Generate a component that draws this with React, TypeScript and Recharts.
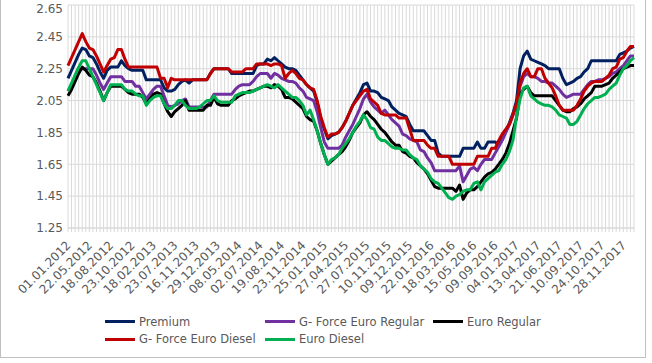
import React from 'react';
import { LineChart, Line, XAxis, YAxis, CartesianGrid, Legend } from 'recharts';

// tick labels shown on the x axis (every 6th price-change date)
const tickLabels = [
  '01.01.2012', '22.05.2012', '18.08.2012', '23.10.2012', '18.02.2013', '23.07.2013', '16.11.2013',
  '29.12.2013', '08.05.2014', '02.07.2014', '19.08.2014', '23.11.2014', '25.01.2015', '27.04.2015',
  '27.07.2015', '10.11.2015', '09.12.2015', '22.01.2016', '18.03.2016', '15.05.2016', '09.09.2016',
  '04.01.2017', '13.04.2017', '21.06.2017', '10.09.2017', '24.10.2017', '28.11.2017',
];
const LABEL_STEP = 6;

const yTicks = [1.25, 1.35, 1.45, 1.55, 1.65, 1.75, 1.85, 1.95, 2.05, 2.15, 2.25, 2.35, 2.45, 2.55, 2.65];
const yLabelled = [1.25, 1.45, 1.65, 1.85, 2.05, 2.25, 2.45, 2.65];

const premium = [
  2.19, 2.24, 2.29, 2.34, 2.38, 2.37, 2.33, 2.32, 2.28, 2.23,
  2.19, 2.24, 2.26, 2.26, 2.26, 2.30, 2.27, 2.25, 2.24, 2.24,
  2.24, 2.24, 2.18, 2.18, 2.18, 2.18, 2.18, 2.13, 2.11, 2.11,
  2.12, 2.15, 2.17, 2.18, 2.16, 2.18, 2.18, 2.18, 2.18, 2.18,
  2.22, 2.25, 2.25, 2.25, 2.25, 2.25, 2.22, 2.22, 2.22, 2.22,
  2.22, 2.22, 2.22, 2.27, 2.28, 2.28, 2.31, 2.30, 2.32, 2.30,
  2.28, 2.26, 2.25, 2.25, 2.24, 2.21, 2.18, 2.15, 2.13, 2.11,
  2.04, 1.94, 1.87, 1.81, 1.83, 1.84, 1.85, 1.88, 1.92, 1.97,
  2.02, 2.06, 2.10, 2.15, 2.16, 2.11, 2.11, 2.10, 2.07, 2.06,
  2.05, 2.01, 1.99, 1.97, 1.96, 1.95, 1.90, 1.86, 1.86, 1.86,
  1.86, 1.83, 1.80, 1.80, 1.72, 1.70, 1.70, 1.70, 1.70, 1.70,
  1.70, 1.75, 1.75, 1.75, 1.75, 1.79, 1.75, 1.75, 1.79, 1.79,
  1.79, 1.77, 1.82, 1.86, 1.91, 1.97, 2.05, 2.25, 2.33, 2.36,
  2.31, 2.30, 2.29, 2.28, 2.27, 2.25, 2.25, 2.25, 2.25, 2.19,
  2.15, 2.16, 2.17, 2.19, 2.20, 2.23, 2.25, 2.30, 2.30, 2.30,
  2.30, 2.30, 2.30, 2.30, 2.30, 2.34, 2.35, 2.36, 2.38, 2.39,
];

const gForceRegular = [
  2.11, 2.15, 2.20, 2.24, 2.25, 2.25, 2.25, 2.25, 2.21, 2.16,
  2.12, 2.16, 2.20, 2.20, 2.20, 2.20, 2.17, 2.17, 2.17, 2.14,
  2.14, 2.10, 2.06, 2.09, 2.12, 2.14, 2.14, 2.08, 2.02, 2.01,
  2.02, 2.03, 2.05, 2.06, 2.01, 2.01, 2.01, 2.01, 2.01, 2.01,
  2.05, 2.09, 2.09, 2.09, 2.09, 2.09, 2.09, 2.12, 2.14, 2.15,
  2.15, 2.15, 2.17, 2.20, 2.22, 2.22, 2.22, 2.19, 2.22, 2.21,
  2.19, 2.18, 2.17, 2.17, 2.16, 2.13, 2.11, 2.07, 2.06, 2.05,
  1.98, 1.88, 1.79, 1.75, 1.75, 1.75, 1.75, 1.77, 1.82, 1.86,
  1.90, 1.95, 2.00, 2.06, 2.09, 2.04, 2.01, 1.99, 1.97, 1.99,
  1.96, 1.93, 1.91, 1.89, 1.84, 1.83, 1.81, 1.80, 1.79, 1.74,
  1.73, 1.69, 1.66, 1.61, 1.61, 1.61, 1.61, 1.61, 1.61, 1.61,
  1.64, 1.54, 1.58, 1.62, 1.63, 1.61, 1.65, 1.68, 1.68, 1.68,
  1.72, 1.76, 1.80, 1.85, 1.90, 1.96, 2.02, 2.14, 2.20, 2.22,
  2.20, 2.20, 2.19, 2.17, 2.17, 2.16, 2.16, 2.14, 2.12, 2.09,
  2.07, 2.08, 2.09, 2.09, 2.09, 2.12, 2.15, 2.17, 2.17, 2.18,
  2.18, 2.19, 2.20, 2.22, 2.23, 2.25, 2.27, 2.30, 2.33, 2.33,
];

const euroRegular = [
  2.08, 2.12, 2.17, 2.22, 2.26, 2.24, 2.21, 2.20, 2.16, 2.11,
  2.05, 2.10, 2.14, 2.14, 2.14, 2.14, 2.12, 2.10, 2.09, 2.09,
  2.09, 2.07, 2.03, 2.06, 2.09, 2.10, 2.09, 2.03, 1.98, 1.95,
  1.98, 2.00, 2.02, 2.05, 1.99, 1.99, 1.99, 1.99, 1.99, 2.02,
  2.02, 2.07, 2.03, 2.02, 2.02, 2.02, 2.05, 2.06, 2.08, 2.09,
  2.10, 2.11, 2.11, 2.12, 2.13, 2.14, 2.14, 2.13, 2.15, 2.14,
  2.12, 2.07, 2.07, 2.06, 2.04, 2.02, 2.00, 1.95, 1.93, 1.92,
  1.86, 1.78, 1.71, 1.65, 1.67, 1.69, 1.71, 1.73, 1.76, 1.80,
  1.85, 1.88, 1.91, 1.96, 1.98, 1.95, 1.93, 1.90, 1.87, 1.85,
  1.82, 1.79, 1.77, 1.77, 1.73, 1.72, 1.70, 1.69, 1.66, 1.64,
  1.62, 1.59, 1.55, 1.51, 1.50, 1.50, 1.50, 1.50, 1.50, 1.48,
  1.52, 1.43, 1.47, 1.49, 1.49, 1.51, 1.54, 1.57, 1.59, 1.60,
  1.62, 1.65, 1.68, 1.72, 1.78, 1.86, 1.94, 2.09, 2.12, 2.14,
  2.10, 2.08, 2.08, 2.08, 2.08, 2.08, 2.08, 2.05, 2.02, 1.99,
  1.98, 1.98, 2.00, 2.01, 2.03, 2.06, 2.08, 2.10, 2.14, 2.14,
  2.14, 2.15, 2.16, 2.19, 2.21, 2.23, 2.25, 2.26, 2.27, 2.27,
];

const gForceDiesel = [
  2.27, 2.32, 2.37, 2.42, 2.47, 2.42, 2.38, 2.37, 2.33, 2.28,
  2.23, 2.27, 2.31, 2.32, 2.37, 2.37, 2.31, 2.26, 2.26, 2.26,
  2.26, 2.26, 2.26, 2.26, 2.26, 2.26, 2.19, 2.19, 2.13, 2.19,
  2.18, 2.18, 2.18, 2.18, 2.18, 2.18, 2.18, 2.18, 2.18, 2.18,
  2.22, 2.25, 2.25, 2.25, 2.25, 2.25, 2.23, 2.23, 2.23, 2.23,
  2.25, 2.25, 2.25, 2.28, 2.28, 2.28, 2.28, 2.27, 2.28, 2.28,
  2.27, 2.19, 2.22, 2.24, 2.22, 2.19, 2.18, 2.15, 2.13, 2.12,
  2.05, 1.95, 1.88, 1.82, 1.84, 1.84, 1.85, 1.88, 1.92, 1.97,
  2.02, 2.05, 2.08, 2.11, 2.12, 2.06, 2.04, 2.02, 1.97, 1.96,
  1.96, 1.96, 1.96, 1.94, 1.94, 1.94, 1.87, 1.80, 1.80, 1.80,
  1.80, 1.77, 1.75, 1.75, 1.70, 1.70, 1.70, 1.70, 1.65, 1.65,
  1.65, 1.65, 1.65, 1.65, 1.65, 1.70, 1.70, 1.70, 1.70, 1.75,
  1.75, 1.80, 1.84, 1.87, 1.90, 1.96, 2.03, 2.16, 2.22, 2.25,
  2.20, 2.20, 2.25, 2.25, 2.19, 2.16, 2.13, 2.08, 2.02, 1.99,
  1.99, 1.99, 1.99, 2.02, 2.06, 2.11, 2.14, 2.16, 2.17, 2.17,
  2.17, 2.19, 2.21, 2.25, 2.26, 2.31, 2.32, 2.36, 2.39, 2.39,
];

const euroDiesel = [
  2.11, 2.16, 2.21, 2.26, 2.30, 2.30, 2.25, 2.20, 2.15, 2.10,
  2.05, 2.10, 2.15, 2.15, 2.15, 2.15, 2.12, 2.11, 2.11, 2.09,
  2.08, 2.08, 2.02, 2.05, 2.07, 2.08, 2.08, 2.03, 2.00, 2.00,
  2.02, 2.05, 2.05, 2.02, 2.00, 2.00, 2.00, 2.01, 2.03, 2.05,
  2.05, 2.08, 2.05, 2.04, 2.04, 2.04, 2.04, 2.08, 2.09, 2.10,
  2.10, 2.10, 2.11, 2.12, 2.13, 2.14, 2.15, 2.14, 2.13, 2.15,
  2.13, 2.11, 2.09, 2.07, 2.07, 2.05, 2.02, 1.96, 1.99, 1.93,
  1.86, 1.78, 1.71, 1.65, 1.68, 1.69, 1.71, 1.75, 1.78, 1.81,
  1.85, 1.89, 1.92, 1.96, 1.93, 1.88, 1.87, 1.82, 1.80, 1.80,
  1.78, 1.76, 1.75, 1.75, 1.74, 1.74, 1.71, 1.69, 1.68, 1.64,
  1.62, 1.60, 1.56, 1.54, 1.53, 1.50, 1.47, 1.44, 1.43, 1.45,
  1.46, 1.48, 1.49, 1.49, 1.53, 1.54, 1.49, 1.54, 1.56, 1.58,
  1.60, 1.61, 1.65, 1.68, 1.73, 1.80, 1.95, 2.06, 2.13, 2.14,
  2.08, 2.06, 2.04, 2.03, 2.02, 2.02, 2.01, 1.99, 1.96, 1.95,
  1.94, 1.90, 1.90, 1.92, 1.96, 2.00, 2.03, 2.05, 2.07, 2.07,
  2.08, 2.09, 2.12, 2.14, 2.16, 2.21, 2.25, 2.27, 2.30, 2.32,
];

const series = [
  { key: 'premium', name: 'Premium', color: '#002060', values: premium },
  { key: 'gForceRegular', name: 'G- Force Euro Regular', color: '#7030A0', values: gForceRegular },
  { key: 'euroRegular', name: 'Euro Regular', color: '#000000', values: euroRegular },
  { key: 'gForceDiesel', name: 'G- Force Euro Diesel', color: '#C00000', values: gForceDiesel },
  { key: 'euroDiesel', name: 'Euro Diesel', color: '#00B050', values: euroDiesel },
];

const data = premium.map((_, i) => {
  const row: Record<string, number> = { idx: i };
  series.forEach(s => { row[s.key] = s.values[i]; });
  return row;
});

const FONT = '"DejaVu Sans", Verdana, sans-serif';
const TEXT = '#595959';
const GRID = '#d9d9d9';

const DateTick = (props: any) => {
  const { x, y, payload } = props;
  const i = Number(payload.value);
  if (i % LABEL_STEP !== 0) return null;
  return (
    <g transform={`translate(${x + 3.5},${y + 12}) rotate(-45)`}>
      <text x={0} y={0} textAnchor="end" fill={TEXT} fontSize={12} fontFamily={FONT}>
        {tickLabels[i / LABEL_STEP]}
      </text>
    </g>
  );
};

const PriceTick = (props: any) => {
  const { x, y, payload } = props;
  if (!yLabelled.some(v => Math.abs(v - payload.value) < 1e-6)) return null;
  return (
    <text x={x} y={y} dy="0.36em" textAnchor="end" fill={TEXT} fontSize={12} fontFamily={FONT}>
      {payload.value.toFixed(2)}
    </text>
  );
};

const renderLegend = () => (
  <div
    style={{
      display: 'grid',
      gridTemplateColumns: '160px 168px 140px',
      paddingLeft: 104,
      fontFamily: FONT,
      fontSize: 11.5,
      color: TEXT,
    }}
  >
    {series.map(s => (
      <div key={s.key} style={{ display: 'flex', alignItems: 'center', height: 17.5 }}>
        <span style={{ display: 'inline-block', width: 30, height: 3, background: s.color, marginRight: 4 }} />
        <span>{s.name}</span>
      </div>
    ))}
  </div>
);

export default function App() {
  return (
    <div
      style={{
        position: 'absolute',
        left: 0,
        top: -1,
        width: 646,
        height: 359,
        border: '1px solid #bfbfbf',
        boxSizing: 'border-box',
        background: '#fff',
      }}
    >
      <LineChart width={644} height={357} data={data} margin={{ top: 5, right: 11, left: 0, bottom: 0 }}>
        <CartesianGrid stroke={GRID} strokeWidth={1} />
        <XAxis
          dataKey="idx"
          interval={0}
          tick={<DateTick />}
          tickSize={4}
          tickMargin={2}
          tickLine={{ stroke: GRID }}
          axisLine={{ stroke: GRID }}
          height={89}
        />
        <YAxis
          domain={[1.25, 2.65]}
          ticks={yTicks}
          tick={<PriceTick />}
          tickLine={false}
          axisLine={false}
          tickSize={0}
          tickMargin={5}
          width={67}
        />
        <Legend
          content={renderLegend}
          wrapperStyle={{ top: 313, left: 0, width: 644, height: 40 }}
        />
        {series.map(s => (
          <Line
            key={s.key}
            type="linear"
            dataKey={s.key}
            name={s.name}
            stroke={s.color}
            strokeWidth={3}
            strokeLinejoin="round"
            dot={false}
            activeDot={false}
            isAnimationActive={false}
          />
        ))}
      </LineChart>
    </div>
  );
}
